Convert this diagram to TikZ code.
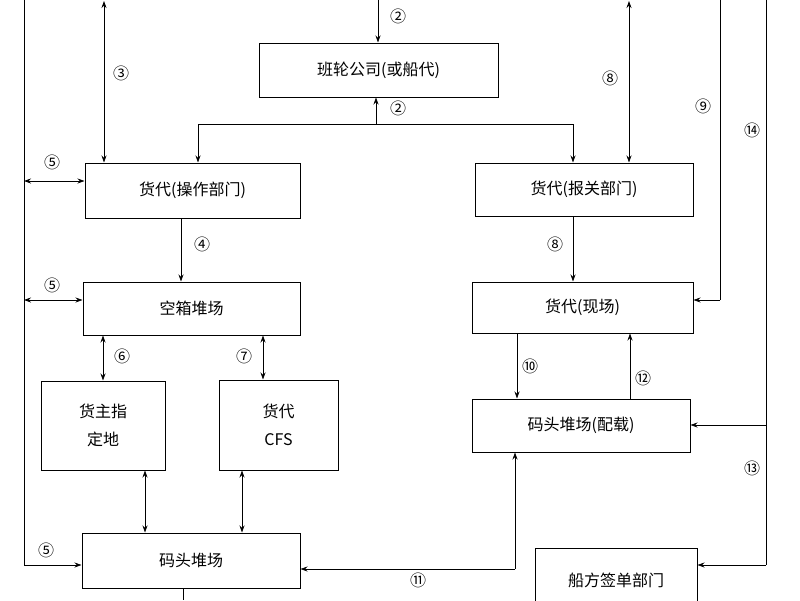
\documentclass[tikz,border=0pt]{standalone}
\usepackage{fontspec}
\setmainfont{Noto Sans CJK SC}
\usetikzlibrary{arrows.meta}
\begin{document}
\begin{tikzpicture}[x=1pt,y=-1pt,
  box/.style={draw,line width=1pt,inner sep=0pt,font=\fontsize{16}{20}\selectfont,align=center},
  ln/.style={line width=0.8pt},
  ar/.style={ln,-{Stealth[length=7pt,width=5pt]}},
  dar/.style={ln,{Stealth[length=7pt,width=5pt]}-{Stealth[length=7pt,width=5pt]}},
  lab/.style={font=\fontsize{16}{18}\selectfont,inner sep=0pt}]
\useasboundingbox (0,0) rectangle (800,600);
\def\bx#1#2#3#4#5#6{\node[box,minimum width=#4-#2,minimum height=#5-#3] (#1) at ({(#2+#4)/2},{(#3+#5)/2}) {#6};}
\bx{ship}{259}{43}{498}{97}{班轮公司(或船代)}
\bx{op}{85}{163}{300}{218}{货代(操作部门)}
\bx{cus}{475}{163}{693}{216}{货代(报关部门)}
\bx{empty}{83}{282}{300}{335}{空箱堆场}
\bx{site}{472}{282}{693}{333}{货代(现场)}
\bx{owner}{41}{381}{165}{470}{货主指\\[8pt]定地}
\bx{cfs}{219}{380}{338}{470}{货代\\[8pt]CFS}
\bx{stow}{472}{399}{690}{452}{码头堆场(配载)}
\bx{term}{82}{533}{300}{588}{码头堆场}
\bx{sign}{535}{548}{697}{612}{船方签单部门}
\coordinate (L0) at (24,0); \coordinate (L1) at (24,565);
\draw[ln] (L0) -- (L1);
\draw[dar] (24,181) -- (op.west|-24,181);
\draw[dar] (24,300) -- (empty.west|-24,300);
\draw[ar] (L1) -- (term.west|-L1);
\node[lab] (n5a) at (52,162) {⑤};
\node[lab] (n5b) at (52,285) {⑤};
\node[lab] (n5c) at (46,550) {⑤};
\coordinate (t3) at (104,1);
\draw[dar] (t3) -- (op.north-|t3);
\node[lab] (n3) at (121,73) {③};
\coordinate (t2) at (378,0);
\draw[ar] (t2) -- (ship.north-|t2);
\node[lab] (n2a) at (398,16) {②};
\coordinate (j2) at (376,124);
\draw[ar] (j2) -- (ship.south-|j2);
\draw[ln] (198,124) -- (573,124);
\draw[ar] (198,124) -- (op.north-|198,0);
\draw[ar] (573,124) -- (cus.north-|573,0);
\node[lab] (n2b) at (398,108) {②};
\coordinate (t8) at (629,1);
\draw[dar] (t8) -- (cus.north-|t8);
\node[lab] (n8a) at (610,78) {⑧};
\coordinate (t9) at (720,0); \coordinate (c9) at (720,300);
\draw[ln] (t9) -- (c9);
\draw[ar] (c9) -- (site.east|-c9);
\node[lab] (n9) at (703,106) {⑨};
\coordinate (t14) at (766,0); \coordinate (b14) at (766,565);
\draw[ln] (t14) -- (b14);
\draw[ar] (766,425) -- (stow.east|-766,425);
\draw[ar] (b14) -- (sign.east|-b14);
\node[lab] (n14) at (752,130) {⑭};
\node[lab] (n13) at (752,468) {⑬};
\draw[ar] (op.south-|181,0) -- (empty.north-|181,0);
\node[lab] (n4) at (202,244) {④};
\draw[ar] (cus.south-|573,0) -- (site.north-|573,0);
\node[lab] (n8b) at (555,244) {⑧};
\draw[dar] (empty.south-|103,0) -- (owner.north-|103,0);
\node[lab] (n6) at (122,356) {⑥};
\draw[dar] (empty.south-|263,0) -- (cfs.north-|263,0);
\node[lab] (n7) at (244,356) {⑦};
\draw[ar] (site.south-|517,0) -- (stow.north-|517,0);
\node[lab] (n10) at (530,366) {⑩};
\draw[ar] (stow.north-|630,0) -- (site.south-|630,0);
\node[lab] (n12) at (643,378) {⑫};
\draw[dar] (owner.south-|145,0) -- (term.north-|145,0);
\draw[dar] (cfs.south-|242,0) -- (term.north-|242,0);
\coordinate (c11) at (515,569);
\draw[ar] (c11) -- (term.east|-c11);
\draw[ar] (c11) -- (stow.south-|c11);
\node[lab] (n11) at (418,580) {⑪};
\coordinate (tb) at (183,600);
\draw[ln] (term.south-|tb) -- (tb);
\end{tikzpicture}
\end{document}
